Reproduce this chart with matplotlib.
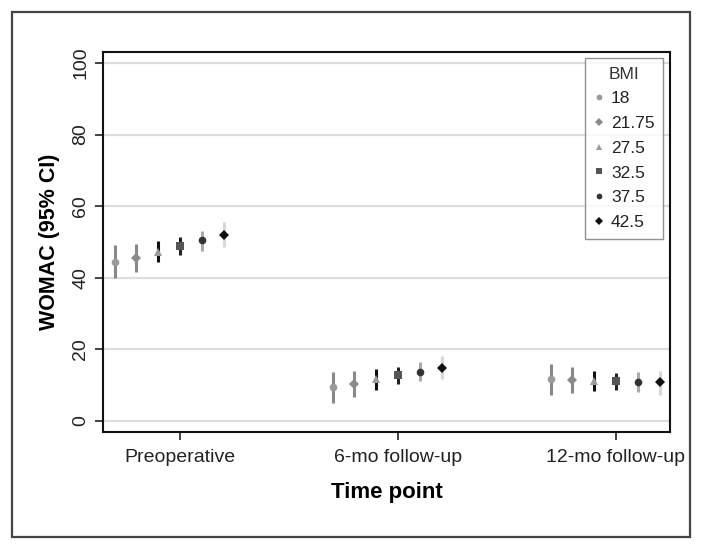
import matplotlib.pyplot as plt
import numpy as np
from matplotlib.patches import Rectangle

plt.rcParams["font.family"] = ["Liberation Sans", "DejaVu Sans"]

# ---------------------------------------------------------------------------
# Data
# ---------------------------------------------------------------------------
time_points = ["Preoperative", "6-mo follow-up", "12-mo follow-up"]
bmi_levels = ["18", "21.75", "27.5", "32.5", "37.5", "42.5"]

# estimate per BMI level, one value per time point
womac_mean = {
    "18":    [44.5, 9.6, 11.6],
    "21.75": [45.6, 10.3, 11.5],
    "27.5":  [47.3, 11.6, 11.3],
    "32.5":  [49.0, 12.8, 11.2],
    "37.5":  [50.6, 13.8, 11.0],
    "42.5":  [52.0, 14.9, 10.8],
}
womac_lo = {
    "18":    [39.9, 5.1, 7.3],
    "21.75": [41.7, 6.6, 7.9],
    "27.5":  [44.3, 8.8, 8.5],
    "32.5":  [46.4, 10.2, 8.7],
    "37.5":  [47.6, 11.2, 8.2],
    "42.5":  [48.5, 11.6, 7.3],
}
womac_hi = {
    "18":    [49.2, 13.8, 15.8],
    "21.75": [49.4, 14.0, 15.0],
    "27.5":  [50.3, 14.4, 14.1],
    "32.5":  [51.5, 15.2, 13.5],
    "37.5":  [53.2, 16.4, 13.6],
    "42.5":  [55.7, 18.2, 14.1],
}

# styling per BMI level
offsets = [-0.3, -0.2, -0.1, 0.0, 0.1, 0.2]
markers = ["o", "D", "^", "s", "o", "D"]
marker_sizes = [5.5, 5, 6, 5.5, 5.5, 5]
marker_colors = ["#9a9a9a", "#8a8a8a", "#9a9a9a", "#555555", "#333333", "#111111"]
bar_colors = ["#888888", "#888888", "#111111", "#222222", "#aaaaaa", "#d8d8d8"]

# ---------------------------------------------------------------------------
# Plot
# ---------------------------------------------------------------------------
fig = plt.figure(figsize=(7.03, 5.5), dpi=100)
fig.patches.append(Rectangle((12 / 703, 13 / 550), 678 / 703, 525 / 550,
                             transform=fig.transFigure, fill=False,
                             edgecolor="#444444", linewidth=1.6))

ax = fig.add_axes([103 / 703, 118 / 550, 567 / 703, 380 / 550])

x = np.arange(1, len(time_points) + 1)
for i, bmi in enumerate(bmi_levels):
    xs = x + offsets[i]
    lo = np.array(womac_lo[bmi])
    hi = np.array(womac_hi[bmi])
    ax.vlines(xs, lo, hi, color=bar_colors[i], linewidth=2.2, zorder=3)
    ax.plot(xs, womac_mean[bmi], linestyle="none", marker=markers[i],
            markersize=marker_sizes[i], color=marker_colors[i],
            markeredgewidth=0, zorder=4, label=bmi)

ax.set_xlim(0.647, 3.248)
ax.set_ylim(-3.07, 103.07)
ax.set_xticks(x)
ax.set_xticklabels(time_points, fontsize=14, color="#222222")
ax.set_yticks(np.arange(0, 101, 20))
ax.set_yticklabels([str(v) for v in range(0, 101, 20)], fontsize=14,
                   rotation=90, va="center", color="#222222")
ax.tick_params(axis="both", direction="out", length=6, width=1.2, colors="#222222")
ax.tick_params(axis="y", pad=4)
ax.tick_params(axis="x", pad=6)
ax.yaxis.grid(True, color="#dddddd", linewidth=1.6)
ax.set_axisbelow(True)
for s in ax.spines.values():
    s.set_linewidth(1.5)
    s.set_color("#111111")

ax.set_xlabel("Time point", fontsize=16, fontweight="bold", labelpad=12)
ax.set_ylabel("WOMAC (95% CI)", fontsize=15.5, fontweight="bold", labelpad=9)

leg = ax.legend(title="BMI", loc="upper right", bbox_to_anchor=(0.988, 0.984),
                borderaxespad=0, fontsize=12.5, title_fontsize=12.5,
                frameon=True, fancybox=False, handletextpad=0.4,
                handlelength=0.6, labelspacing=0.55, borderpad=0.5,
                markerscale=0.75)
leg.get_frame().set_edgecolor("#777777")
leg.get_frame().set_linewidth(1.0)
leg.get_title().set_color("#333333")
for t in leg.get_texts():
    t.set_color("#222222")

fig.savefig("out.png", dpi=100)
